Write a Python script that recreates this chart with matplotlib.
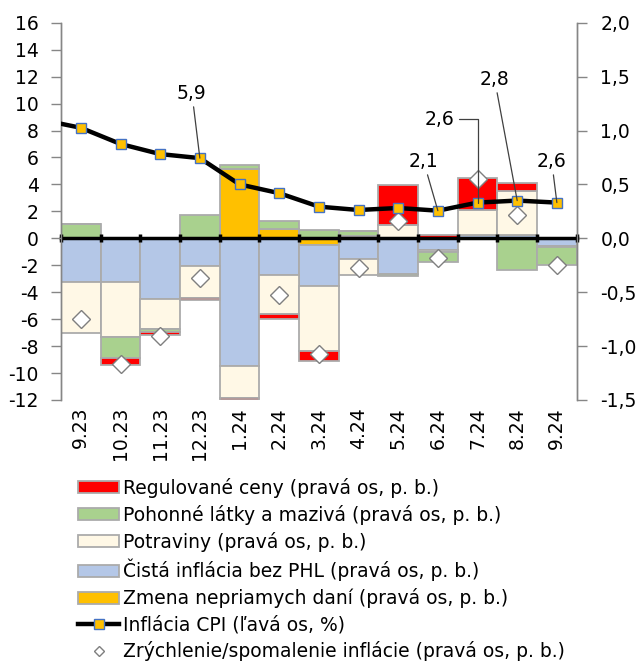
import numpy as np
import matplotlib
matplotlib.use("Agg")
import matplotlib.pyplot as plt
from matplotlib.patches import Patch
from matplotlib.lines import Line2D
from matplotlib.ticker import FixedLocator, FuncFormatter

plt.rcParams['font.family'] = ['DejaVu Sans']
plt.rcParams['axes.unicode_minus'] = False

# ---------------- data ----------------
categories = ['9.23', '10.23', '11.23', '12.23', '1.24', '2.24', '3.24',
              '4.24', '5.24', '6.24', '7.24', '8.24', '9.24']
# contributions (right axis, p. b.)
regulated = [0.0, -0.056, -0.03, -0.02, -0.02, -0.046, -0.096, 0.0, 0.365, 0.034, 0.30, 0.07, 0.0]
fuels     = [0.136, -0.195, -0.03, 0.213, 0.037, 0.077, 0.081, 0.04, -0.012, -0.09, 0.0, -0.297, -0.16]
food      = [-0.47, -0.51, -0.28, -0.297, -0.292, -0.363, -0.60, -0.155, 0.127, -0.025, 0.226, 0.405, -0.01]
core      = [-0.405, -0.41, -0.56, -0.257, -1.189, -0.337, -0.388, -0.19, -0.334, -0.105, 0.034, 0.034, -0.074]
taxes     = [0.0, 0.0, 0.0, 0.0, 0.64, 0.084, -0.058, 0.025, 0.0, 0.0, 0.0, 0.0, 0.0]
accel     = [-0.752, -1.17, -0.91, -0.368, np.nan, -0.523, -1.071, -0.28, 0.158, -0.183, 0.548, 0.214, -0.245]
# CPI inflation (left axis, %), previous month first (only its segment is visible)
cpi_prev = 8.8
cpi = [8.2, 7.0, 6.25, 5.95, 4.0, 3.35, 2.35, 2.1, 2.25, 2.05, 2.65, 2.8, 2.65]

left_ticks = [16, 14, 12, 10, 8, 6, 4, 2, 0, -2, -4, -6, -8, -10, -12]
right_ticks = [2.0, 1.5, 1.0, 0.5, 0.0, -0.5, -1.0, -1.5]

labels = ['Regulované ceny (pravá os, p. b.)',
          'Pohonné látky a mazivá (pravá os, p. b.)',
          'Potraviny (pravá os, p. b.)',
          'Čistá inflácia bez PHL (pravá os, p. b.)',
          'Zmena nepriamych daní (pravá os, p. b.)',
          'Inflácia CPI (ľavá os, %)',
          'Zrýchlenie/spomalenie inflácie (pravá os, p. b.)']

# annotations: (category index, label text, text x, text y, style)
ann = [(3, '5,9', 2.80, 10.77, 'straight'),
       (9, '2,1', 8.64, 5.72, 'straight'),
       (10, '2,6', 9.05, 8.84, 'angle'),
       (11, '2,8', 10.43, 11.81, 'straight'),
       (12, '2,6', 11.87, 5.72, 'straight')]

# ---------------- style ----------------
c_red = '#FF0000'
c_green = '#A9D18E'
c_food = '#FFF8E6'
c_core = '#B4C7E7'
c_tax = '#FFC000'
edge = '#ABABAB'
axis_gray = '#868686'
FS = 13.5

fig = plt.figure(figsize=(6.39, 6.64), dpi=100)
ax = fig.add_axes([0.0955, 0.3976, 0.8070, 0.5682])   # bars, right scale
ax2 = ax.twinx()                                       # line, left scale
ax.set_axisbelow(False)

x = np.arange(len(categories))
series = [(taxes, c_tax), (core, c_core), (food, c_food), (fuels, c_green), (regulated, c_red)]
pos_base = np.zeros(len(x))
neg_base = np.zeros(len(x))
for vals, col in series:
    v = np.array(vals, dtype=float)
    bottoms = np.where(v >= 0, pos_base, neg_base)
    ax.bar(x, v, width=1.0, bottom=bottoms, color=col, edgecolor=edge, linewidth=1.3, zorder=1)
    pos_base = pos_base + np.where(v >= 0, v, 0)
    neg_base = neg_base + np.where(v < 0, v, 0)

ax.plot(x, accel, linestyle='none', marker='D', markersize=9,
        markerfacecolor='white', markeredgecolor='#7F7F7F', markeredgewidth=1.0, zorder=5)

ax.set_xlim(-0.5, len(x) - 0.5)
ax.set_ylim(-1.5, 2.0)
ax2.set_ylim(-12, 16)

# right scale on right side, left scale on left side
ax.yaxis.tick_right()
ax2.yaxis.tick_left()
ax.yaxis.set_major_locator(FixedLocator(right_ticks))
ax.yaxis.set_major_formatter(FuncFormatter(lambda v, p: f'{v:.1f}'.replace('.', ',')))
ax2.yaxis.set_major_locator(FixedLocator(left_ticks))
ax2.yaxis.set_major_formatter(FuncFormatter(lambda v, p: f'{v:.0f}'))
ax.tick_params(axis='y', direction='out', length=7, width=1, color=axis_gray,
               labelsize=FS, pad=10)
ax2.tick_params(axis='y', direction='out', length=7, width=1, color=axis_gray,
                labelsize=FS, pad=9)

for a in (ax, ax2):
    a.spines['top'].set_visible(False)
    a.spines['left'].set_color(axis_gray)
    a.spines['right'].set_color(axis_gray)
    a.spines['left'].set_linewidth(1.0)
    a.spines['right'].set_linewidth(1.0)
ax2.spines['bottom'].set_visible(False)

# horizontal axis line at zero, tick marks at category boundaries
ax.spines['bottom'].set_position(('data', 0))
ax.spines['bottom'].set_color('black')
ax.spines['bottom'].set_linewidth(2.5)
ax.spines['bottom'].set_zorder(4)
ax.xaxis.set_major_locator(FixedLocator(np.arange(len(x) + 1) - 0.5))
ax.tick_params(axis='x', direction='inout', length=6, width=2.5, color='black',
               labelbottom=False)

# category labels at bottom
sec = ax.secondary_xaxis('bottom')
sec.spines['bottom'].set_visible(False)
sec.xaxis.set_major_locator(FixedLocator(x))
sec.set_xticklabels(categories, rotation=90, fontsize=FS)
sec.tick_params(axis='x', length=0, pad=5)
for lab in sec.get_xticklabels():
    lab.set_verticalalignment('top')

# CPI line
ax2.plot(np.concatenate([[x[0] - 1], x]), [cpi_prev] + cpi, color='black', linewidth=3.2,
         marker='s', markersize=7, markerfacecolor=c_tax, markeredgecolor='#4472C4',
         markeredgewidth=1.0, zorder=6, solid_joinstyle='round', clip_on=True,
         markevery=list(range(1, len(x) + 1)))

for idx, txt, tx, ty, style in ann:
    if style == 'angle':
        ap = dict(arrowstyle='-', color='#404040', lw=0.9, shrinkA=1, shrinkB=0,
                  relpos=(1.0, 0.5), connectionstyle='angle,angleA=0,angleB=90,rad=0')
    else:
        ap = dict(arrowstyle='-', color='#404040', lw=0.9, shrinkA=1, shrinkB=0)
    ax2.annotate(txt, xy=(idx, cpi[idx]), xytext=(tx, ty), textcoords='data',
                 ha='center', va='center', fontsize=FS, arrowprops=ap, zorder=7)

# legend
handles = [Patch(facecolor=c_red, edgecolor=edge, linewidth=1.3),
           Patch(facecolor=c_green, edgecolor=edge, linewidth=1.3),
           Patch(facecolor=c_food, edgecolor=edge, linewidth=1.3),
           Patch(facecolor=c_core, edgecolor=edge, linewidth=1.3),
           Patch(facecolor=c_tax, edgecolor=edge, linewidth=1.3),
           Line2D([], [], color='black', linewidth=3.2, marker='s', markersize=7,
                  markerfacecolor=c_tax, markeredgecolor='#4472C4'),
           Line2D([], [], linestyle='none', marker='D', markersize=5,
                  markerfacecolor='white', markeredgecolor='#7F7F7F')]
fig.legend(handles, labels, loc='upper left', bbox_to_anchor=(78 / 639, 1 - 478 / 664),
           frameon=False, fontsize=FS, handlelength=2.2, handleheight=0.6,
           handletextpad=0.2, labelspacing=0.37, borderpad=0, borderaxespad=0)

fig.savefig('out.png', dpi=100)
